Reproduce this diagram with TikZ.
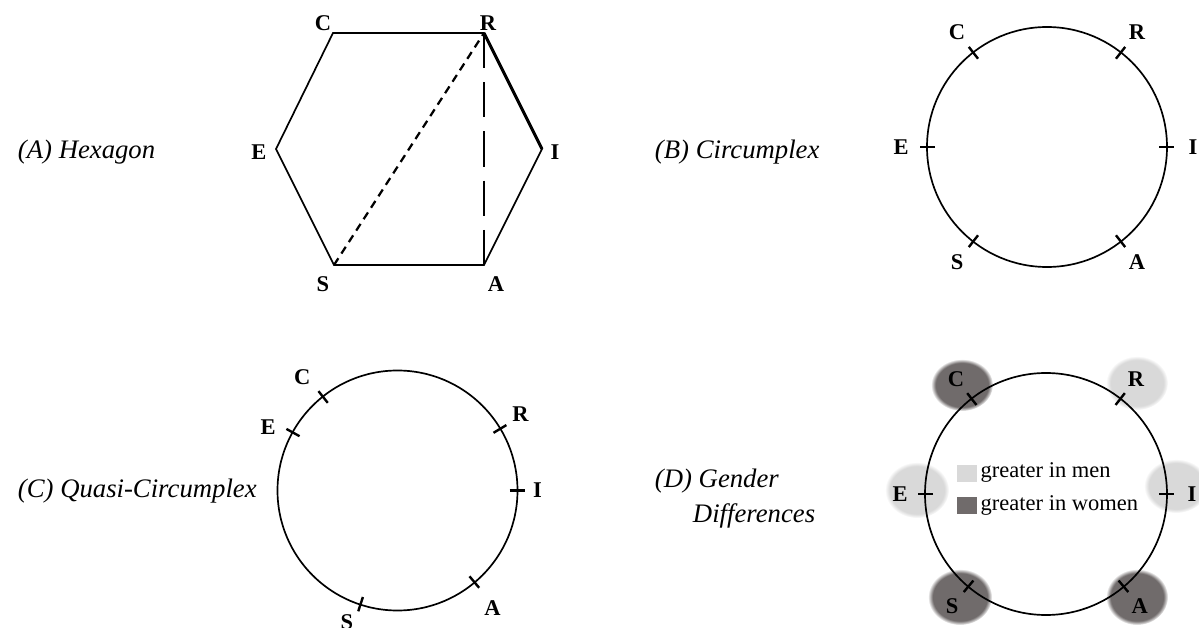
\documentclass[tikz,border=0pt]{standalone}
\usepackage{fontspec}
\setmainfont{Liberation Serif}
\usepackage{xcolor}
\usepackage{tikz}
\usetikzlibrary{fadings}
\definecolor{menlight}  {RGB}{217,217,217}
\definecolor{womendark} {RGB}{112,107,107}

\begin{document}
\begin{tikzpicture}[x=0.025cm,y=0.025cm,
    vlabel/.style={font=\fontsize{16}{18}\selectfont\bfseries},
    panel/.style={font=\fontsize{19}{23}\selectfont\itshape,anchor=base west},
    ring/.style={line width=1.2pt},
    tick/.style={line width=1.7pt},
    blob/.style={fill=#1,path fading=circle with fuzzy edge 15 percent}]
  \useasboundingbox (0,0) rectangle (1199,627);

  % (A) hexagon
  \node[panel] (capA) at (13,468) {(A) Hexagon};
  \coordinate (hC) at (333,594);
  \coordinate (hR) at (484,594);
  \coordinate (hI) at (542,478);
  \coordinate (hA) at (484,362);
  \coordinate (hS) at (334,362);
  \coordinate (hE) at (276,478);
  \draw[line width=1.2pt] (hC) -- (hR) -- (hI) -- (hA) -- (hS) -- (hE) -- cycle;
  \draw[line width=2.1pt] (hR) -- (hI);
  \draw[line width=1.6pt,dash pattern=on 5.7pt off 4pt] (hS) -- (hR);
  \draw[line width=1.9pt,dash pattern=on 25pt off 10pt] (hR) -- (hA);
  \node[vlabel] (aC) at (323,604) {C};
  \node[vlabel] (aR) at (488,604) {R};
  \node[vlabel] (aE) at (259,475) {E};
  \node[vlabel] (aI) at (555,475) {I};
  \node[vlabel] (aS) at (323,343) {S};
  \node[vlabel] (aA) at (496,343) {A};

  % (B) circumplex
  \node[panel] (capB) at (650,468) {(B) Circumplex};
  \coordinate (ctrB) at (1047,480);
  \draw[ring] (ctrB) circle (120);
  \foreach \ang/\name in {128/C,52/R,180/E,0/I,232/S,308/A}{
    \draw[tick] ([shift={(\ang:112)}]ctrB) -- ([shift={(\ang:127)}]ctrB);
    \node[vlabel] (b\name) at ([shift={(\ang:146)}]ctrB) {\name};
  }

  % (C) quasi-circumplex
  \node[panel] (capC) at (13,130) {(C) Quasi-Circumplex};
  \coordinate (ctrC) at (397.5,136.5);
  \draw[ring] (ctrC) circle (120);
  \foreach \ang/\lang/\rad/\name in {128.5/130/148/C,151/154/144/E,31/32/145/R,0/0/140/I,-50/-51/151/A,-108/-111/141/S}{
    \draw[tick] ([shift={(\ang:112)}]ctrC) -- ([shift={(\ang:127)}]ctrC);
    \node[vlabel] (c\name) at ([shift={(\lang:\rad)}]ctrC) {\name};
  }

  % (D) gender differences
  \node[panel] (capD) at (650,140) {(D) Gender};
  \node[panel] (capDb) at (688,105) {Differences};
  \coordinate (ctrD) at (1046,133);
  \path[blob=womendark] (962,242) ellipse (31 and 26);
  \path[blob=menlight]  (1137,244) ellipse (31 and 27);
  \path[blob=menlight]  (917,137) ellipse (32 and 28);
  \path[blob=menlight]  (1176,141) ellipse (32 and 27);
  \path[blob=womendark] (960,30) ellipse (32 and 28);
  \path[blob=womendark] (1137,30) ellipse (31 and 28);
  \draw[ring] (ctrD) circle (121);
  \foreach \ang/\name in {128/C,52/R,180/E,0/I,230/S,310/A}{
    \draw[tick] ([shift={(\ang:113)}]ctrD) -- ([shift={(\ang:128)}]ctrD);
    \node[vlabel] (d\name) at ([shift={(\ang:146)}]ctrD) {\name};
  }
  \fill[menlight]  (957,145) rectangle (977,162);
  \fill[womendark] (957,113) rectangle (977,130);
  \node[font=\fontsize{16}{19}\selectfont,anchor=base west,inner sep=1pt] (kmen) at (979,150) {greater in men};
  \node[font=\fontsize{16}{19}\selectfont,anchor=base west,inner sep=1pt] (kwomen) at (979,117) {greater in women};
\end{tikzpicture}
\end{document}
